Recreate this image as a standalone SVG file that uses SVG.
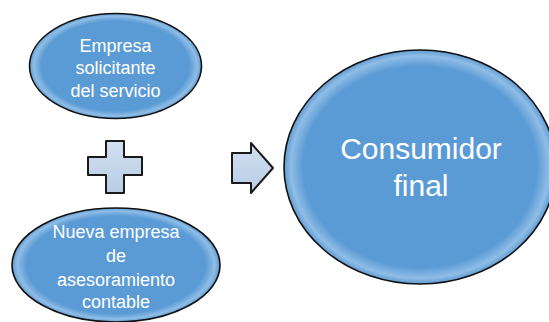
<svg xmlns="http://www.w3.org/2000/svg" width="549" height="322" viewBox="0 0 549 322">
<defs>
<radialGradient id="ellFill" cx="0.5" cy="0.5" r="0.5">
<stop offset="0" stop-color="#5B9BD5"/>
<stop offset="0.86" stop-color="#5B9BD5"/>
<stop offset="0.95" stop-color="#8FBDE6"/>
<stop offset="1" stop-color="#5F9BD2"/>
</radialGradient>
<linearGradient id="symFill" x1="0" y1="0" x2="0" y2="1">
<stop offset="0" stop-color="#D3E0F0"/>
<stop offset="1" stop-color="#B7CCE6"/>
</linearGradient>
<style>
.ell{fill:url(#ellFill);stroke:#111;stroke-width:1.6}
.sym{fill:url(#symFill);stroke:#1a1a1a;stroke-width:2;stroke-linejoin:round}
.lbl{font-family:"Liberation Sans",Arial,sans-serif;fill:#ffffff;text-anchor:middle}
</style>
</defs>
<rect width="549" height="322" fill="#ffffff"/>
<g id="connectors">
<path id="plus" class="sym" d="M106,141 H124 V157 H142 V175 H124 V193 H106 V175 H88 V157 H106 Z"/>
<path id="arrow" class="sym" d="M232,153 H251 V143 L273,168 L251,193 V183 H232 Z"/>
</g>
<g id="node-empresa">
<ellipse class="ell" cx="115.5" cy="66" rx="86" ry="52.5"/>
<text class="lbl" font-size="18" x="115.5" y="52">Empresa</text>
<text class="lbl" font-size="18" x="115.5" y="74">solicitante</text>
<text class="lbl" font-size="18" x="115.5" y="97">del servicio</text>
</g>
<g id="node-nueva">
<ellipse class="ell" cx="116" cy="265" rx="104" ry="57"/>
<text class="lbl" font-size="18" x="116" y="238">Nueva empresa</text>
<text class="lbl" font-size="18" x="116" y="262">de</text>
<text class="lbl" font-size="18" x="116" y="286">asesoramiento</text>
<text class="lbl" font-size="18" x="116" y="308">contable</text>
</g>
<g id="node-consumidor">
<ellipse class="ell" cx="420" cy="167" rx="136" ry="117"/>
<text class="lbl" font-size="30" x="421" y="159">Consumidor</text>
<text class="lbl" font-size="30" x="421" y="196">final</text>
</g>
</svg>
